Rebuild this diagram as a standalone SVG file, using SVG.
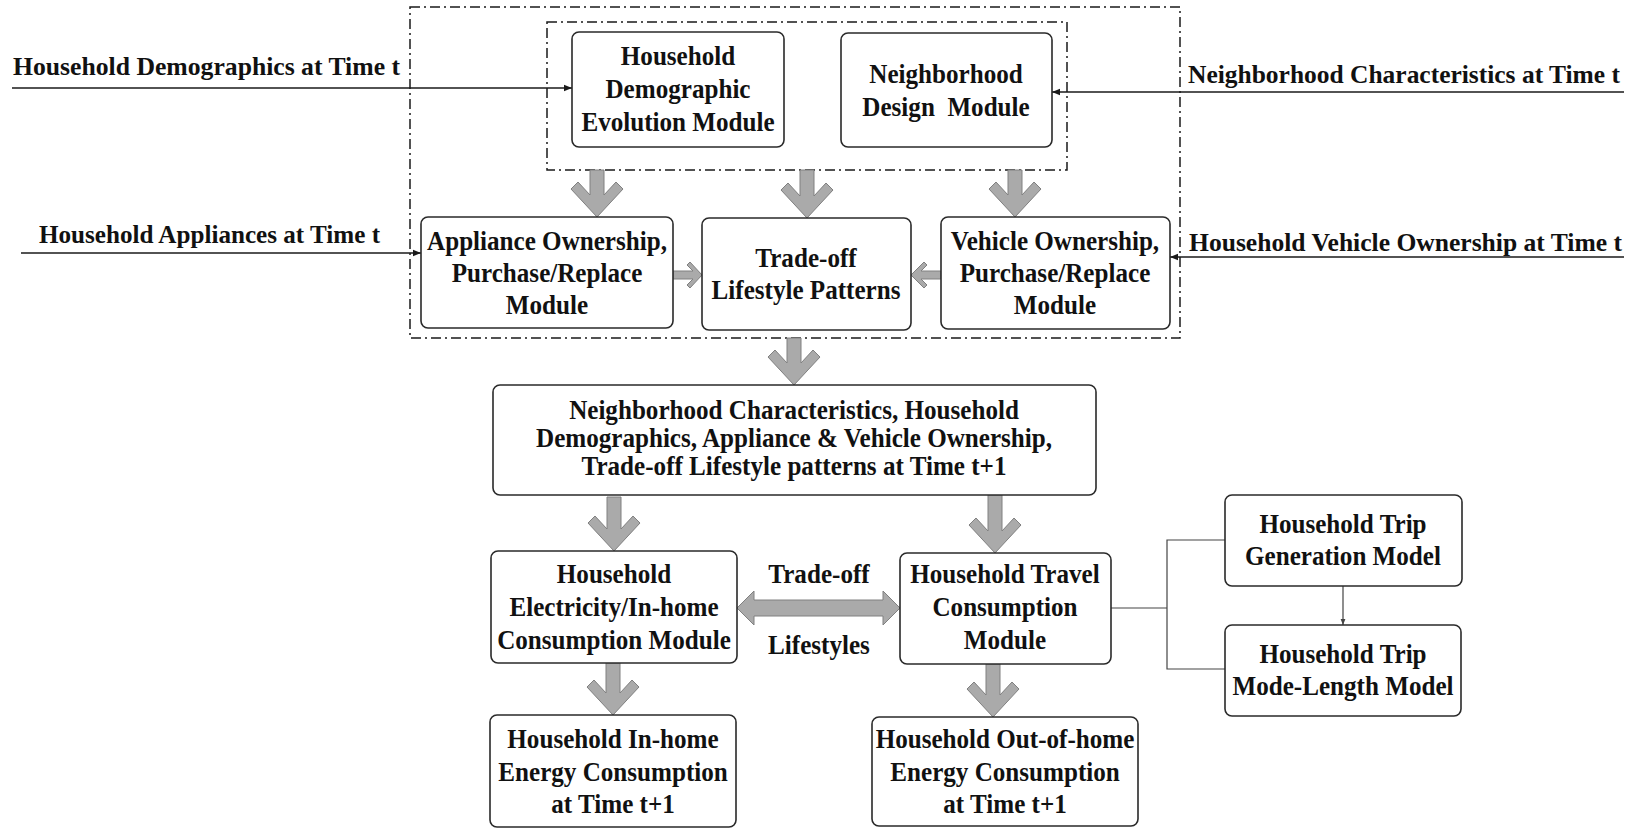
<svg xmlns="http://www.w3.org/2000/svg" width="1635" height="830" viewBox="0 0 1635 830">
  <defs>
    <style>
      .box { fill: #ffffff; stroke: #2a2a2a; stroke-width: 1.6; }
      .frame { fill: none; stroke: #1a1a1a; stroke-width: 1.5; stroke-dasharray: 10 4 2 4; }
      .lbl { font-family: "Liberation Serif", "Times New Roman", serif; font-weight: bold; font-size: 27px; fill: #111111; text-anchor: middle; }
      .side { font-family: "Liberation Serif", "Times New Roman", serif; font-weight: bold; font-size: 25px; fill: #111111; }
      .wire { fill: none; stroke: #1a1a1a; stroke-width: 1.6; }
      .thin { fill: none; stroke: #444444; stroke-width: 1.2; }
      .fat { fill: #aaaaaa; stroke: #808080; stroke-width: 1; stroke-linejoin: miter; }
    </style>
    <marker id="head" viewBox="0 0 10 10" refX="10" refY="5" markerWidth="8" markerHeight="8" markerUnits="userSpaceOnUse" orient="auto">
      <path d="M0,1 L10,5 L0,9 Z" fill="#1a1a1a"/>
    </marker>
    <marker id="headSmall" viewBox="0 0 10 10" refX="10" refY="5" markerWidth="6" markerHeight="6" markerUnits="userSpaceOnUse" orient="auto">
      <path d="M0,1 L10,5 L0,9 Z" fill="#444444"/>
    </marker>
  </defs>

  <rect x="0" y="0" width="1635" height="830" fill="#ffffff"/>

  <!-- dash-dot grouping frames -->
  <g id="frames">
    <rect class="frame" x="410" y="7" width="770" height="331"/>
    <rect class="frame" x="547" y="22" width="520" height="148"/>
  </g>

  <!-- connectors -->
  <g id="connectors">
    <!-- external inputs at time t -->
    <line class="wire" x1="12" y1="88" x2="572" y2="88" marker-end="url(#head)"/>
    <line class="wire" x1="21" y1="253" x2="421" y2="253" marker-end="url(#head)"/>
    <line class="wire" x1="1624" y1="92" x2="1052" y2="92" marker-end="url(#head)"/>
    <line class="wire" x1="1624" y1="257" x2="1170" y2="257" marker-end="url(#head)"/>

    <!-- fat downward arrows -->
    <polygon class="fat" points="590,170 604,170 604,195 616,182 623,189 597,217 571,189 578,182 590,195"/>
    <polygon class="fat" points="800,170 814,170 814,196 826,183 833,190 807,218 781,190 788,183 800,196"/>
    <polygon class="fat" points="1008,170 1022,170 1022,195 1034,182 1041,189 1015,217 989,189 996,182 1008,195"/>
    <polygon class="fat" points="787,338 801,338 801,363 813,350 820,357 794,385 768,357 775,350 787,363"/>
    <polygon class="fat" points="607,497 621,497 621,529 633,516 640,523 614,551 588,523 595,516 607,529"/>
    <polygon class="fat" points="988,495 1002,495 1002,531 1014,518 1021,525 995,553 969,525 976,518 988,531"/>
    <polygon class="fat" points="606,663 620,663 620,693 632,680 639,687 613,715 587,687 594,680 606,693"/>
    <polygon class="fat" points="986,664 1000,664 1000,695 1012,682 1019,689 993,717 967,689 974,682 986,695"/>

    <!-- small side arrows into trade-off patterns -->
    <polygon class="fat" points="673,271 693,271 687,265 690,262 702,275 690,288 687,285 693,279 673,279"/>
    <polygon class="fat" points="941,271 921,271 927,265 924,262 911,275 924,288 927,285 921,279 941,279"/>

    <!-- two-way trade-off arrow -->
    <polygon class="fat" points="737,608 754,591 754,600 883,600 883,591 900,608 883,625 883,616 754,616 754,625"/>

    <!-- travel module to trip models -->
    <polyline class="thin" points="1111,608 1167,608"/>
    <polyline class="thin" points="1225,540 1167,540 1167,669 1225,669"/>
    <line class="thin" x1="1343" y1="586" x2="1343" y2="625" marker-end="url(#headSmall)"/>
  </g>

  <!-- external input labels -->
  <g id="inputs">
    <text class="side" x="13" y="75" textLength="387" lengthAdjust="spacingAndGlyphs">Household Demographics at Time t</text>
    <text class="side" x="39" y="243" textLength="341" lengthAdjust="spacingAndGlyphs">Household Appliances at Time t</text>
    <text class="side" x="1188" y="83" textLength="432" lengthAdjust="spacingAndGlyphs">Neighborhood Characteristics at Time t</text>
    <text class="side" x="1189" y="251" textLength="433" lengthAdjust="spacingAndGlyphs">Household Vehicle Ownership at Time t</text>
  </g>

  <!-- node labels use a slightly narrowed bold serif -->
  <g id="demographic-evolution">
    <rect class="box" x="572" y="32" width="212" height="115" rx="7"/>
    <g transform="translate(678,0) scale(0.93,1)">
      <text class="lbl" x="0" y="65">Household</text>
      <text class="lbl" x="0" y="98">Demographic</text>
      <text class="lbl" x="0" y="131">Evolution Module</text>
    </g>
  </g>

  <g id="neighborhood-design">
    <rect class="box" x="841" y="33" width="211" height="114" rx="7"/>
    <g transform="translate(946,0) scale(0.93,1)">
      <text class="lbl" x="0" y="83">Neighborhood</text>
      <text class="lbl" x="0" y="116" xml:space="preserve">Design  Module</text>
    </g>
  </g>

  <g id="appliance-ownership">
    <rect class="box" x="421" y="217" width="252" height="111" rx="7"/>
    <g transform="translate(547,0) scale(0.93,1)">
      <text class="lbl" x="0" y="250">Appliance Ownership,</text>
      <text class="lbl" x="0" y="282">Purchase/Replace</text>
      <text class="lbl" x="0" y="314">Module</text>
    </g>
  </g>

  <g id="tradeoff-patterns">
    <rect class="box" x="702" y="218" width="209" height="112" rx="7"/>
    <g transform="translate(806,0) scale(0.93,1)">
      <text class="lbl" x="0" y="267">Trade-off</text>
      <text class="lbl" x="0" y="299">Lifestyle Patterns</text>
    </g>
  </g>

  <g id="vehicle-ownership">
    <rect class="box" x="941" y="217" width="229" height="112" rx="7"/>
    <g transform="translate(1055,0) scale(0.93,1)">
      <text class="lbl" x="0" y="250">Vehicle Ownership,</text>
      <text class="lbl" x="0" y="282">Purchase/Replace</text>
      <text class="lbl" x="0" y="314">Module</text>
    </g>
  </g>

  <g id="state-t1">
    <rect class="box" x="493" y="385" width="603" height="110" rx="7"/>
    <g transform="translate(794,0) scale(0.93,1)">
      <text class="lbl" x="0" y="419">Neighborhood Characteristics, Household</text>
      <text class="lbl" x="0" y="447">Demographics, Appliance &amp; Vehicle Ownership,</text>
      <text class="lbl" x="0" y="475">Trade-off Lifestyle patterns at Time t+1</text>
    </g>
  </g>

  <g id="electricity-module">
    <rect class="box" x="491" y="551" width="246" height="112" rx="7"/>
    <g transform="translate(614,0) scale(0.93,1)">
      <text class="lbl" x="0" y="583">Household</text>
      <text class="lbl" x="0" y="616">Electricity/In-home</text>
      <text class="lbl" x="0" y="649">Consumption Module</text>
    </g>
  </g>

  <g id="tradeoff-label">
    <g transform="translate(819,0) scale(0.93,1)">
      <text class="lbl" x="0" y="583">Trade-off</text>
      <text class="lbl" x="0" y="654">Lifestyles</text>
    </g>
  </g>

  <g id="travel-module">
    <rect class="box" x="900" y="553" width="211" height="111" rx="7"/>
    <g transform="translate(1005,0) scale(0.93,1)">
      <text class="lbl" x="0" y="583">Household Travel</text>
      <text class="lbl" x="0" y="616">Consumption</text>
      <text class="lbl" x="0" y="649">Module</text>
    </g>
  </g>

  <g id="trip-generation">
    <rect class="box" x="1225" y="495" width="237" height="91" rx="7"/>
    <g transform="translate(1343,0) scale(0.93,1)">
      <text class="lbl" x="0" y="533">Household Trip</text>
      <text class="lbl" x="0" y="565">Generation Model</text>
    </g>
  </g>

  <g id="trip-mode-length">
    <rect class="box" x="1225" y="625" width="236" height="91" rx="7"/>
    <g transform="translate(1343,0) scale(0.93,1)">
      <text class="lbl" x="0" y="663">Household Trip</text>
      <text class="lbl" x="0" y="695">Mode-Length Model</text>
    </g>
  </g>

  <g id="inhome-energy">
    <rect class="box" x="490" y="715" width="246" height="112" rx="7"/>
    <g transform="translate(613,0) scale(0.93,1)">
      <text class="lbl" x="0" y="748">Household In-home</text>
      <text class="lbl" x="0" y="781">Energy Consumption</text>
      <text class="lbl" x="0" y="813">at Time t+1</text>
    </g>
  </g>

  <g id="outhome-energy">
    <rect class="box" x="872" y="717" width="266" height="109" rx="7"/>
    <g transform="translate(1005,0) scale(0.93,1)">
      <text class="lbl" x="0" y="748">Household Out-of-home</text>
      <text class="lbl" x="0" y="781">Energy Consumption</text>
      <text class="lbl" x="0" y="813">at Time t+1</text>
    </g>
  </g>
</svg>
